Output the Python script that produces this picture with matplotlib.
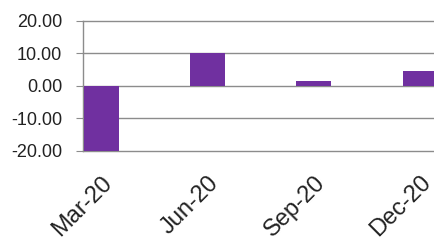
import matplotlib
matplotlib.use("Agg")
import matplotlib.pyplot as plt

# data
quarters = ["Mar-20", "Jun-20", "Sep-20", "Dec-20"]
values = [-20.0, 10.1, 1.5, 4.5]
y_ticks = [-20, -10, 0, 10, 20]

plt.rcParams['font.family'] = ['Liberation Sans', 'DejaVu Sans']

fig = plt.figure(figsize=(4.35, 2.43), dpi=100)
ax = fig.add_axes([0.191, 0.379, 0.809, 0.535])

pos = list(range(len(quarters)))
ax.bar(pos, values, width=0.33, color="#7030A0", zorder=3)

ax.set_ylim(-20, 20)
ax.set_xlim(-0.17, 3.14)
ax.set_yticks(y_ticks)
ax.set_yticklabels(["%.2f" % v for v in y_ticks], fontsize=13, color="#222222")
ax.set_xticks(pos)
ax.set_xticklabels(quarters, rotation=45, ha="right", rotation_mode="anchor",
                   fontsize=17, color="#222222")

# grid like excel
ax.grid(axis="y", color="#8c8c8c", linewidth=1.0, zorder=0)
for gl in ax.get_ygridlines():
    gl.set_clip_on(False)
for s in ["top", "right", "bottom"]:
    ax.spines[s].set_visible(False)
ax.spines["left"].set_color("#8c8c8c")
ax.spines["left"].set_linewidth(1.0)
ax.tick_params(axis="y", length=5, color="#8c8c8c", pad=10)
ax.tick_params(axis="x", length=0, pad=15)

fig.savefig("out.png", dpi=100)
